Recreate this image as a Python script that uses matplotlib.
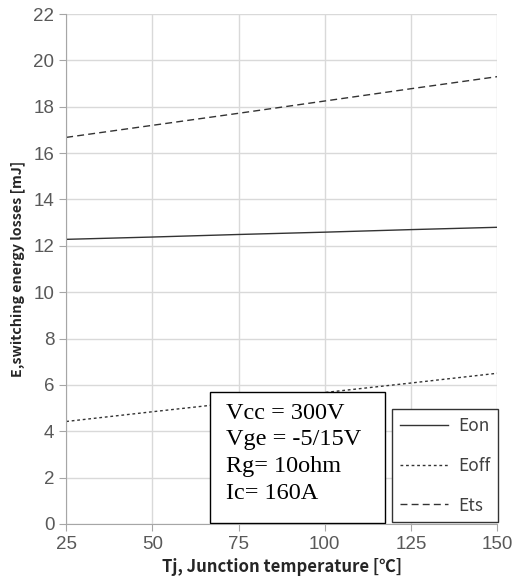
import numpy as np
import matplotlib.pyplot as plt
from matplotlib.patches import Rectangle

plt.rcParams['font.family'] = ['Liberation Sans', 'DejaVu Sans']

tj = [25, 50, 75, 100, 125, 150]
eon = [12.28, 12.38, 12.49, 12.59, 12.70, 12.80]
eoff = [4.42, 4.84, 5.25, 5.67, 6.08, 6.50]
ets = [16.68, 17.2, 17.72, 18.25, 18.78, 19.30]
conditions = "Vcc = 300V\nVge = -5/15V\nRg= 10ohm\nIc= 160A"

fig = plt.figure(figsize=(5.13, 5.88), dpi=100)
ax = fig.add_axes([0.129, 0.109, 0.840, 0.867])

ax.plot(tj, eon, color='#333333', lw=1.0, ls='-', label='Eon')
ax.plot(tj, eoff, color='#333333', lw=1.0, ls=(0, (2, 2)), label='Eoff')
ax.plot(tj, ets, color='#333333', lw=1.0, ls=(0, (5, 3)), label='Ets')

ax.set_xlim(25, 150)
ax.set_ylim(0, 22)
ax.set_xticks(tj)
ax.set_yticks(np.arange(0, 23, 2))
ax.grid(True, color='#d9d9d9', lw=1.0)
ax.set_axisbelow(True)
for s in ['top', 'right']:
    ax.spines[s].set_visible(False)
for s in ['left', 'bottom']:
    ax.spines[s].set_color('#a6a6a6')
ax.tick_params(colors='#a6a6a6', labelcolor='#595959', length=5, labelsize=13.5)

lab_font = ['Noto Sans CJK SC', 'DejaVu Sans']
ax.set_xlabel('Tj, Junction temperature [℃]', family=lab_font, fontsize=12,
              fontweight='bold', color='#262626', labelpad=4)
ax.set_ylabel('E,switching energy losses [mJ]', family=lab_font, fontsize=10.3,
              fontweight='bold', color='#262626', labelpad=6)

# conditions box
ax.add_patch(Rectangle((0.334, 0.002), 0.406, 0.257, transform=ax.transAxes,
                       fc='white', ec='black', lw=1.0, zorder=5))
ax.text(0.371, 0.238, conditions, transform=ax.transAxes, family='Liberation Serif',
        fontsize=17.5, linespacing=1.36, va='top', ha='left', zorder=6)

leg = ax.legend(loc='lower right', bbox_to_anchor=(1.002, 0.003), borderaxespad=0,
                fancybox=False, edgecolor='#333333', handlelength=2.8,
                handletextpad=0.55, labelspacing=1.25, borderpad=0.45, framealpha=1,
                prop={'family': 'Noto Sans CJK SC', 'size': 12.5})
leg.get_frame().set_linewidth(1.0)
leg.set_zorder(7)
for t in leg.get_texts():
    t.set_color('#404040')

fig.savefig('out.png', dpi=100)
